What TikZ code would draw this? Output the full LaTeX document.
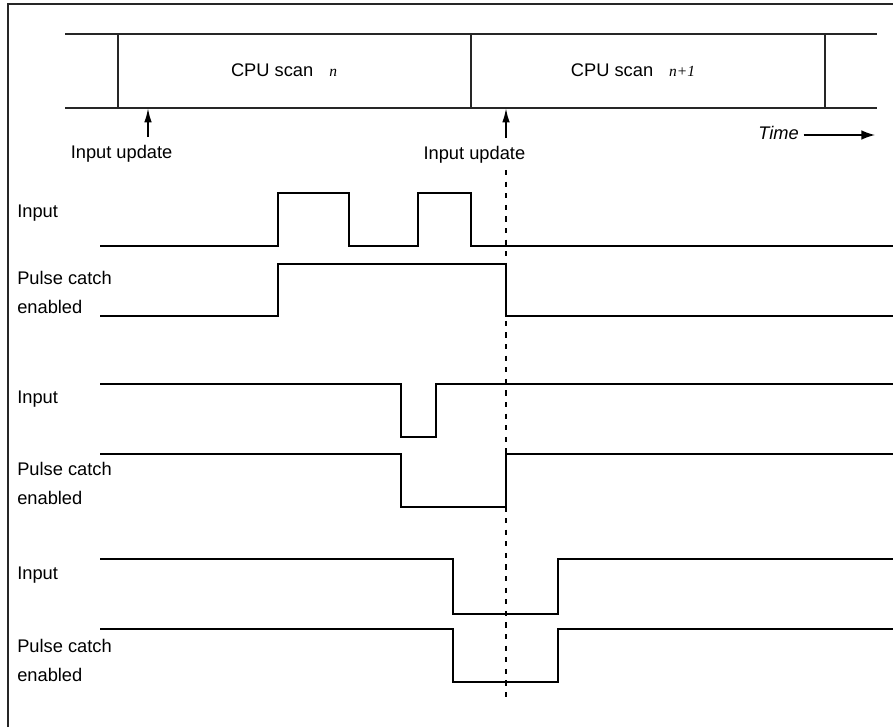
\documentclass[tikz,border=0pt]{standalone}
\usepackage{fontspec}
\setmainfont{Liberation Sans}
\newfontfamily\scanfont{Liberation Serif}
\usetikzlibrary{arrows.meta}

\begin{document}
\begin{tikzpicture}[
		wave/.style={line width=1.6pt, line join=miter},
		rail/.style={line width=1.6pt, black!85},
		txt/.style={inner sep=0pt, font=\fontsize{13}{15}\selectfont},
		sig/.style={anchor=west, inner sep=0pt, align=left, font=\fontsize{13}{20.6}\selectfont},
		cut/.style={line width=1.5pt, dash pattern=on 0.13cm off 0.16cm},
		updarrow/.style={line width=1.3pt, -{Latex[length=0.36cm,width=0.19cm]}},
		timearrow/.style={line width=1.1pt, -{Latex[length=0.34cm,width=0.24cm]}}
	]
			%%%%% START %%%%%
			\useasboundingbox (0, 0) rectangle (22.325, 18.175);
			\draw[rail] (0.2, 0) -- (0.2, 18.075) -- (22.325, 18.075);
			
			% scan bar
			\draw[rail] (1.625, 17.325) -- (21.925, 17.325);
			\draw[rail] (1.625, 15.475) -- (21.925, 15.475);
			\foreach \x in {2.95, 11.775, 20.625}
				\draw[rail] (\x, 17.325) -- (\x, 15.475);
			\node[txt] (scanA) at (7.1, 16.425) {CPU scan\hspace{0.4cm}{\scanfont\itshape\fontsize{11}{12}\selectfont n}};
			\node[txt] (scanB) at (15.825, 16.425) {CPU scan\hspace{0.4cm}{\scanfont\itshape\fontsize{11}{12}\selectfont n+1}};
			
			% input updates
			\coordinate (updA) at (3.7, 15.475);
			\coordinate (updB) at (12.65, 15.475);
			\node[txt] (lblA) at (3.04, 14.325) {Input update};
			\node[txt] (lblB) at (11.86, 14.3) {Input update};
			\draw[updarrow, shorten <=0.2cm] (lblA.north -| updA) -- (updA);
			\draw[updarrow, shorten <=0.2cm] (lblB.north -| updB) -- (updB);
			
			\node[font=\fontsize{13}{15}\selectfont\itshape] (time) at (19.4625, 14.85) {Time};
			\coordinate (timeEnd) at (21.875, 14.8);
			\draw[timearrow] (time.east |- timeEnd) -- (timeEnd);
			
			% first case
			\node[sig] (inA) at (0.425, 12.85) {Input};
			\node[sig] (pcA) at (0.425, 10.8625) {Pulse catch\\enabled};
			\draw[wave] (2.5, 12.025) -- (6.95, 12.025) -- (6.95, 13.35) -- (8.72, 13.35) -- (8.72, 12.025) -- (10.45, 12.025) -- (10.45, 13.35) -- (11.775, 13.35) -- (11.775, 12.025) -- (22.325, 12.025);
			\draw[wave] (2.5, 10.275) -- (6.95, 10.275) -- (6.95, 11.575) -- (12.65, 11.575) -- (12.65, 10.275) -- (22.325, 10.275);
			
			% second case
			\node[sig] (inB) at (0.425, 8.2) {Input};
			\node[sig] (pcB) at (0.425, 6.0875) {Pulse catch\\enabled};
			\draw[wave] (2.5, 8.575) -- (10.025, 8.575) -- (10.025, 7.25) -- (10.9, 7.25) -- (10.9, 8.575) -- (22.325, 8.575);
			\draw[wave] (2.5, 6.825) -- (10.025, 6.825) -- (10.025, 5.5) -- (12.65, 5.5) -- (12.65, 6.825) -- (22.325, 6.825);
			
			% third case
			\node[sig] (inC) at (0.425, 3.8) {Input};
			\node[sig] (pcC) at (0.425, 1.665) {Pulse catch\\enabled};
			\draw[wave] (2.5, 4.2) -- (11.325, 4.2) -- (11.325, 2.825) -- (13.95, 2.825) -- (13.95, 4.2) -- (22.325, 4.2);
			\draw[wave] (2.5, 2.45) -- (11.325, 2.45) -- (11.325, 1.125) -- (13.95, 1.125) -- (13.95, 2.45) -- (22.325, 2.45);
			
			% second update, carried down
			\coordinate (cutTop) at (12.65, 13.925);
			\coordinate (cutBot) at (12.65, 0.7);
			\draw[cut] (cutTop) -- (cutBot);
			%%%%% END %%%%%
\end{tikzpicture}
\end{document}
